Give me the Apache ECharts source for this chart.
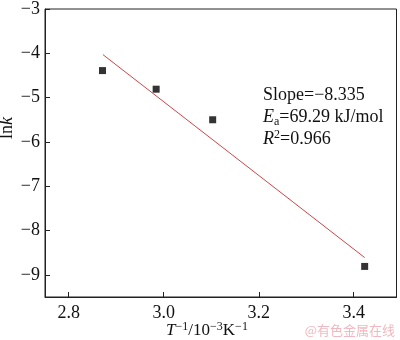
<!DOCTYPE html>
<html>
<head>
<meta charset="utf-8">
<script src="https://cdn.jsdelivr.net/npm/echarts@6/dist/echarts.min.js"></script>
<style>
  html, body { margin: 0; padding: 0; background: #fff; }
  #chart { width: 400px; height: 340px; }
</style>
</head>
<body>
<div id="chart"></div>
<script>
// Arrhenius plot: ln k against reciprocal temperature
const invT = [2.871, 2.984, 3.103, 3.423];
const lnK = [-4.39, -4.81, -5.50, -8.81];
// Ends of the fitted straight line
const fitX = [2.872, 3.423];
const fitY = [-4.03, -8.61];
const xTicks = [2.8, 3.0, 3.2, 3.4];
const yTicks = [-3, -4, -5, -6, -7, -8, -9];

const FONT = '"Liberation Serif", "DejaVu Serif", serif';
const fmtMinus = v => String(v).replace('-', '\u2212');

const chart = echarts.init(document.getElementById('chart'), null, { renderer: 'canvas' });

chart.setOption({
  animation: false,
  backgroundColor: '#fff',
  grid: { left: 45, top: 6, right: 3.5, bottom: 43, show: true, borderColor: '#222', borderWidth: 1 },
  xAxis: {
    type: 'value',
    min: 2.75,
    max: 3.49,
    axisLine: { show: true, onZero: false, lineStyle: { color: '#222', width: 1 } },
    axisTick: { show: true, inside: true, length: 5, customValues: xTicks, lineStyle: { color: '#222' } },
    axisLabel: {
      customValues: xTicks,
      formatter: v => v.toFixed(1),
      fontFamily: FONT, fontSize: 18, color: '#111', margin: 7
    },
    splitLine: { show: false }
  },
  yAxis: {
    type: 'value',
    min: -9.5,
    max: -3,
    axisLine: { show: true, onZero: false, lineStyle: { color: '#222', width: 1 } },
    axisTick: { show: true, inside: true, length: 5, customValues: yTicks, lineStyle: { color: '#222' } },
    axisLabel: {
      customValues: yTicks,
      formatter: v => fmtMinus(v),
      fontFamily: FONT, fontSize: 18, color: '#111', margin: 5
    },
    splitLine: { show: false }
  },
  series: [
    {
      type: 'line',
      data: fitX.map((x, i) => [x, fitY[i]]),
      showSymbol: false,
      lineStyle: { color: '#d0454a', width: 1 },
      z: 2
    },
    {
      type: 'scatter',
      data: invT.map((x, i) => [x, lnK[i]]),
      symbol: 'rect',
      symbolSize: 7,
      itemStyle: { color: '#000' },
      z: 3
    }
  ],
  graphic: [
    {
      type: 'text', left: 263, top: 86,
      style: {
        text: '{n|Slope=\u22128.335}',
        rich: { n: { fontFamily: FONT, fontSize: 18, fill: '#111' } }
      }
    },
    {
      type: 'text', left: 263, top: 108,
      style: {
        text: '{i|E}{s|a}{n|=69.29 kJ/mol}',
        rich: {
          i: { fontFamily: FONT, fontSize: 18, fontStyle: 'italic', fill: '#111' },
          s: { fontFamily: FONT, fontSize: 12, fill: '#111', padding: [10, 0, 0, 0] },
          n: { fontFamily: FONT, fontSize: 18, fill: '#111' }
        }
      }
    },
    {
      type: 'text', left: 263, top: 129,
      style: {
        text: '{i|R}{p|2}{n|=0.966}',
        rich: {
          i: { fontFamily: FONT, fontSize: 18, fontStyle: 'italic', fill: '#111' },
          p: { fontFamily: FONT, fontSize: 12, fill: '#111', padding: [0, 0, 9, 0] },
          n: { fontFamily: FONT, fontSize: 18, fill: '#111' }
        }
      }
    },
    {
      // y-axis title: ln k
      type: 'text', x: 7, y: 128, rotation: Math.PI / 2,
      style: {
        text: '{n|ln}{i|k}',
        align: 'center', verticalAlign: 'middle',
        rich: {
          n: { fontFamily: FONT, fontSize: 18, fill: '#111' },
          i: { fontFamily: FONT, fontSize: 18, fontStyle: 'italic', fill: '#111' }
        }
      }
    },
    {
      // x-axis title: T^-1 / 10^-3 K^-1
      type: 'text', x: 207, y: 331,
      style: {
        text: '{i|T}{p|\u22121}{n|/10}{p|\u22123}{n|K}{p|\u22121}',
        align: 'center', verticalAlign: 'middle',
        rich: {
          i: { fontFamily: FONT, fontSize: 17, fontStyle: 'italic', fill: '#111' },
          p: { fontFamily: FONT, fontSize: 12, fill: '#111', padding: [0, 0, 8, 0] },
          n: { fontFamily: FONT, fontSize: 17, fill: '#111' }
        }
      }
    },
    {
      type: 'text', right: 5, top: 324,
      style: {
        text: '@有色金属在线',
        fontFamily: '"Noto Sans CJK SC", sans-serif', fontSize: 13,
        fill: '#f0b8c0'
      }
    }
  ]
});
</script>
</body>
</html>
